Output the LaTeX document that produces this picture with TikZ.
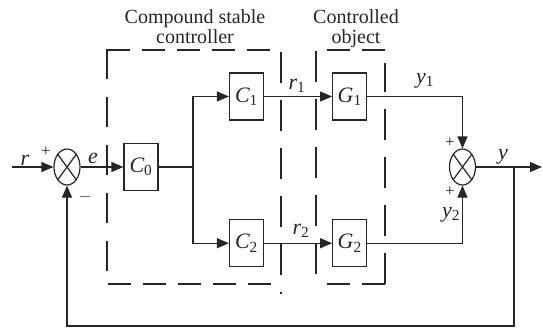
\documentclass[tikz,border=0pt]{standalone}
\usepackage{fontspec}
\setmainfont{Liberation Serif}
\usetikzlibrary{shapes.geometric,positioning,arrows.meta}

\newcommand{\idx}[2]{#1\textsubscript{\upshape #2}}

\begin{document}
\begin{tikzpicture}[
  x=1pt,y=-1pt,
  >={Triangle[length=12pt,width=10pt]},
  line width=1.2pt,
  color=black!85,
  block/.style={draw,minimum width=34pt,minimum height=47pt,inner sep=0pt,
    font=\fontsize{22}{24}\selectfont\itshape},
  summer/.style={draw,ellipse,minimum width=26pt,minimum height=36pt,inner sep=0pt},
  lbl/.style={font=\fontsize{22}{24}\selectfont\itshape,inner sep=0pt},
  sgn/.style={font=\fontsize{17}{20}\selectfont,inner sep=0pt},
  caption/.style={font=\fontsize{20}{20}\selectfont,align=center,inner sep=0pt,anchor=north},
  frame/.style={line width=1.4pt}
]
  \useasboundingbox (0,0) rectangle (543,327);
  % blocks
  \node[summer] (s1) at (67,167) {};
  \node[block] (c0) at (141,167) {\idx{C}{0}};
  \node[block] (c1) at (246.5,96.5) {\idx{C}{1}};
  \node[block,below=98.5pt of c1] (c2) {\idx{C}{2}};
  \node[block,right=68pt of c1] (g1) {\idx{G}{1}};
  \node[block,right=68pt of c2] (g2) {\idx{G}{2}};
  \node[summer] (s2) at (462.5,167) {};
  \foreach \s in {s1,s2}
    \draw (\s.north west) -- (\s.south east) (\s.north east) -- (\s.south west);
  \coordinate (in) at (12,167);
  \coordinate (split) at (193,167);
  \coordinate (tap) at (514,167);
  \coordinate (out) at (542,167);
  % signals
  \draw[->] (in) -- (s1);
  \draw[->] (s1) -- (c0);
  \draw (c0) -- (split);
  \draw[->] (split) |- (c1);
  \draw[->] (split) |- (c2);
  \draw[->] (c1) -- (g1);
  \draw[->] (c2) -- (g2);
  \draw[->] (g1) -| (s2);
  \draw[->] (g2) -| (s2);
  \draw[->] (s2) -- (out);
  \draw[->] (tap) -- ++(0,159) -| (s1);
  % labels
  \node[lbl] (lr) at (25,160) {r};
  \node[sgn] (lp1) at (46,152) {+};
  \node[lbl] (le) at (93,158) {e};
  \node[sgn] (lm1) at (85,197) {$-$};
  \node[lbl] (lr1) at (297,86) {\idx{r}{1}};
  \node[lbl] (lr2) at (301,231) {\idx{r}{2}};
  \node[lbl] (ly1) at (425,81) {\idx{y}{1}};
  \node[lbl] (ly2) at (451,215) {\idx{y}{2}};
  \node[lbl] (ly) at (503,157) {y};
  \node[sgn] (lp2) at (450,143) {+};
  \node[sgn] (lp3) at (450,192) {+};
  % dashed frames
  \node[caption] (tctrl) at (195,9.5) {Compound stable\\controller};
  \node[caption] (tobj) at (356,9.5) {Controlled\\object};
  \draw[frame,dash pattern=on 30pt off 18pt] (107,49) -- (107,284);
  \draw[frame,dash pattern=on 23pt off 12pt] (107,50) -- (272,50);
  \draw[frame,dash pattern=on 23pt off 12pt] (108,284) -- (272,284);
  \draw[frame,dash pattern=on 31pt off 17pt] (281,52) -- (281,294);
  \draw[frame,dash pattern=on 31pt off 17pt] (316,51) -- (316,274);
  \draw[frame,dash pattern=on 23pt off 12pt] (385,50) -- (316,50);
  \draw[frame,dash pattern=on 23pt off 12pt] (385,284) -- (316,284);
  \draw[frame,dash pattern=on 31pt off 17pt] (385,284) -- (385,63);
\end{tikzpicture}
\end{document}
